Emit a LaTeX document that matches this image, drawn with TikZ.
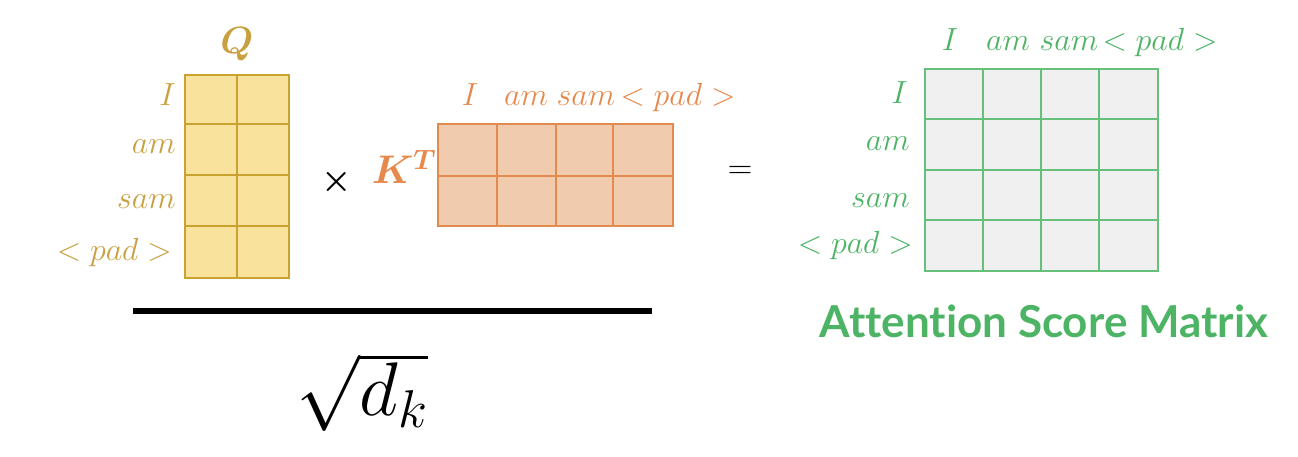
\RequirePackage{fix-cm}
\documentclass[tikz,border=0pt]{standalone}
\usepackage{fontspec}
\usepackage{bm}
\newfontfamily\titlefont[Ligatures=NoCommon]{Lato}
\definecolor{qfill}{HTML}{F9E29C}
\definecolor{qline}{HTML}{C9A230}
\definecolor{qtext}{HTML}{C9A040}
\definecolor{kfill}{HTML}{F1CBAD}
\definecolor{kline}{HTML}{E38B4F}
\definecolor{ktext}{HTML}{E6894D}
\definecolor{afill}{HTML}{F0F0F0}
\definecolor{aline}{HTML}{66C07C}
\definecolor{atext}{HTML}{4DB365}
\begin{document}
\begin{tikzpicture}[x=1pt,y=-1pt,
  lbl/.style={inner sep=0pt, font=\fontsize{32}{36}\selectfont},
  mat/.style={inner sep=0pt, anchor=north west, line width=1.5pt},
  gridline/.style={line width=1.3pt}]
\useasboundingbox (0,0) rectangle (1298,456);
% Q matrix
\node[mat, draw=qline, fill=qfill, minimum width=104pt, minimum height=203pt] (Q) at (184,74) {};
\foreach \y in {124,175,226} \draw[gridline, qline] (184,\y) -- (288,\y);
\draw[gridline, qline] (237,74) -- (237,277);
\node[lbl, text=qtext, font=\fontsize{38}{40}\selectfont] (Qt) at (237,44) {$\bm{Q}$};
\node[lbl, text=qtext, anchor=base east] (q1) at (176,105) {$I$};
\node[lbl, text=qtext, anchor=base east] (q2) at (176,153) {$am$};
\node[lbl, text=qtext, anchor=base east] (q3) at (176,208) {$sam$};
\node[lbl, text=qtext, anchor=base east] (q4) at (172,260) {$<pad>$};
% times
\node[lbl, font=\fontsize{34}{36}\selectfont] (times) at (337,182) {$\bm{\times}$};
% K^T matrix
\node[mat, draw=kline, fill=kfill, minimum width=235pt, minimum height=102pt] (K) at (437,123) {};
\draw[gridline, kline] (437,176) -- (672,176);
\foreach \x in {497,556,613} \draw[gridline, kline] (\x,123) -- (\x,225);
\node[lbl, text=ktext, font=\fontsize{40}{42}\selectfont] (Kt) at (404,167) {$\bm{K^T}$};
\node[lbl, text=ktext, anchor=base] (k1) at (470,105) {$I$};
\node[lbl, text=ktext, anchor=base] (k2) at (526,105) {$am$};
\node[lbl, text=ktext, anchor=base] (k3) at (586,105) {$sam$};
\node[lbl, text=ktext, anchor=base] (k4) at (678,105) {$<pad>$};
% equals
\node[lbl, font=\fontsize{34}{36}\selectfont] (eq) at (740,172) {$=$};
% Attention matrix
\node[mat, draw=aline, fill=afill, minimum width=233pt, minimum height=202pt] (A) at (924,68) {};
\foreach \y in {119,170,220} \draw[gridline, aline] (924,\y) -- (1157,\y);
\foreach \x in {983,1041,1099} \draw[gridline, aline] (\x,68) -- (\x,270);
\node[lbl, text=atext, anchor=base] (a1) at (950,50) {$I$};
\node[lbl, text=atext, anchor=base] (a2) at (1008,50) {$am$};
\node[lbl, text=atext, anchor=base] (a3) at (1069,50) {$sam$};
\node[lbl, text=atext, anchor=base] (a4) at (1160,50) {$<pad>$};
\node[lbl, text=atext, anchor=base east] (r1) at (908,103) {$I$};
\node[lbl, text=atext, anchor=base east] (r2) at (910,150) {$am$};
\node[lbl, text=atext, anchor=base east] (r3) at (910,207) {$sam$};
\node[lbl, text=atext, anchor=base east] (r4) at (913,253) {$<pad>$};
\node[inner sep=0pt, anchor=base, text=atext, font=\titlefont\bfseries\fontsize{44}{48}\selectfont] (title) at (1044,337) {Attention Score Matrix};
% fraction
\coordinate (fl) at (133,311);
\coordinate (fr) at (652,311);
\draw[line width=6pt] (fl) -- (fr);
\node[inner sep=0pt, font=\fontsize{76}{82}\selectfont] (den) at (362,392) {$\sqrt{d_k}$};
\end{tikzpicture}
\end{document}
